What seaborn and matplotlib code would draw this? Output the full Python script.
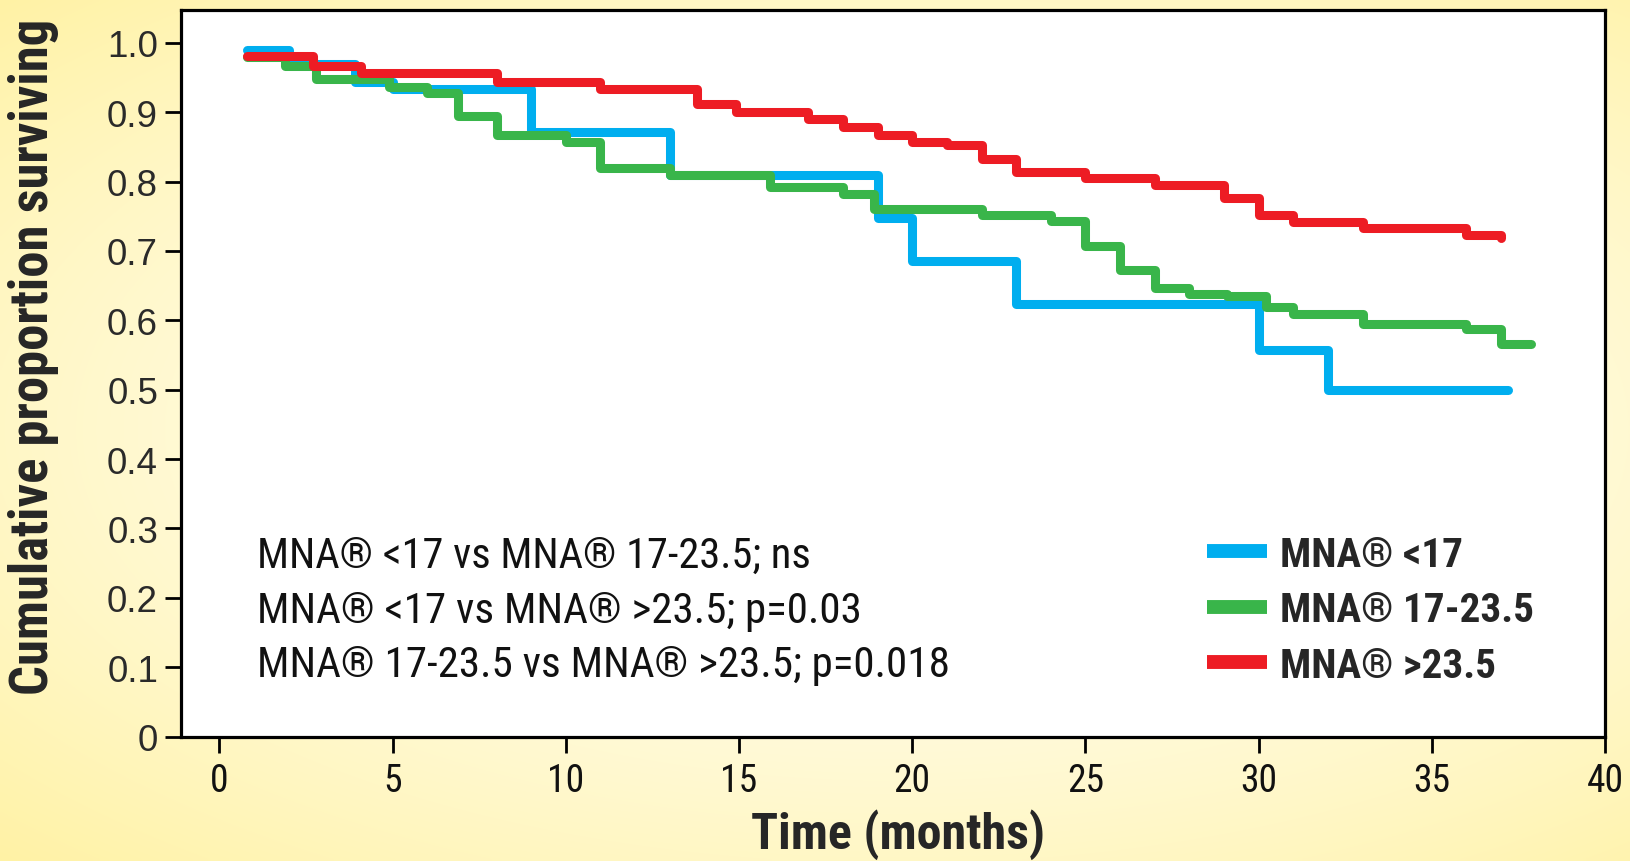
import os
import numpy as np
import pandas as pd
import matplotlib
matplotlib.use("Agg")
import matplotlib.pyplot as plt
import seaborn as sns
from matplotlib import font_manager as fm
from matplotlib.lines import Line2D

# ---------------- data ----------------
groups = ["MNA\u00ae <17", "MNA\u00ae 17-23.5", "MNA\u00ae >23.5"]
colors = ["#00AEEF", "#39B54A", "#ED1C24"]

blue_t = [0.8, 2.0, 3.9, 5.0, 9.0, 13.0, 19.0, 20.0, 23.0, 30.0, 32.0, 37.2]
blue_s = [0.99, 0.97, 0.943, 0.933, 0.872, 0.809, 0.748, 0.685, 0.623, 0.557, 0.50, 0.50]

green_t = [0.8, 1.9, 2.8, 4.9, 6.0, 6.9, 8.0, 10.0, 11.0, 13.0, 15.9, 18.0, 18.9,
           22.0, 24.0, 25.0, 26.0, 27.0, 28.0, 29.1, 30.2, 31.0, 33.0, 36.0, 37.0, 37.86]
green_s = [0.98, 0.967, 0.948, 0.937, 0.928, 0.895, 0.867, 0.857, 0.819, 0.81, 0.7915,
           0.782, 0.761, 0.752, 0.7425, 0.707, 0.673, 0.647, 0.638, 0.6345, 0.6195,
           0.609, 0.5945, 0.588, 0.566, 0.566]

red_t = [0.8, 2.7, 4.1, 8.0, 11.0, 13.8, 14.9, 17.0, 18.0, 19.0, 20.0, 21.0, 22.0,
         23.0, 25.0, 27.0, 29.0, 30.0, 31.0, 33.0, 36.0, 37.0]
red_s = [0.981, 0.966, 0.957, 0.943, 0.933, 0.912, 0.900, 0.890, 0.879, 0.867, 0.857,
         0.8525, 0.832, 0.814, 0.805, 0.795, 0.776, 0.752, 0.741, 0.733, 0.723, 0.718]

annotations = ["MNA\u00ae <17 vs MNA\u00ae 17-23.5; ns",
               "MNA\u00ae <17 vs MNA\u00ae >23.5; p=0.03",
               "MNA\u00ae 17-23.5 vs MNA\u00ae >23.5; p=0.018"]
x_ticks = [0, 5, 10, 15, 20, 25, 30, 35, 40]
y_ticks = [0, 0.1, 0.2, 0.3, 0.4, 0.5, 0.6, 0.7, 0.8, 0.9, 1.0]
y_tick_labels = ["0", "0.1", "0.2", "0.3", "0.4", "0.5", "0.6", "0.7", "0.8", "0.9", "1.0"]

df = pd.concat([
    pd.DataFrame({"t": blue_t, "s": blue_s, "g": groups[0]}),
    pd.DataFrame({"t": green_t, "s": green_s, "g": groups[1]}),
    pd.DataFrame({"t": red_t, "s": red_s, "g": groups[2]}),
], ignore_index=True)

# ---------------- fonts ----------------
def find_font(patterns):
    files = [f.fname for f in fm.fontManager.ttflist]
    for p in patterns:
        for fn in files:
            b = os.path.basename(fn).lower().replace("-", "").replace("_", "").replace(" ", "")
            if p in b:
                return fn
    return None

narrow_reg = find_font(["liberationsansnarrowregular", "liberationsansnarrow.ttf",
                        "arialnarrow", "robotocondensedregular", "robotocondensed.ttf",
                        "dejavusanscondensed.ttf", "opensanscondensed",
                        "dejavusanscondensed"])
narrow_bold = find_font(["liberationsansnarrowbold.", "liberationsansnarrowbold",
                         "arialnarrowbold", "robotocondensedbold.", "robotocondensedbold",
                         "dejavusanscondensedbold.", "dejavusanscondensedbold",
                         "opensanscondensedbold"])
reg_file = find_font(["liberationsansregular", "arial.ttf"])


def fp(fname, size, fallback_weight="normal"):
    if fname:
        return fm.FontProperties(fname=fname, size=size)
    return fm.FontProperties(family="DejaVu Sans", weight=fallback_weight, size=size,
                             stretch="condensed")

sns.set_theme(style="white")
plt.rcParams["font.family"] = ["Liberation Sans", "DejaVu Sans"]

W, H = 1631, 862
fig = plt.figure(figsize=(W / 100, H / 100), dpi=100)

# background gradient
bg = fig.add_axes([0, 0, 1, 1], zorder=-10)
yy, xx = np.mgrid[0:1:200j, 0:1:400j]
d = np.sqrt(((xx - 0.55) / 0.55) ** 2 + ((yy - 0.5) / 0.5) ** 2) / np.sqrt(2)
w = np.clip(d, 0, 1) ** 1.6
c0 = np.array([255, 254, 242]) / 255.0
c1 = np.array([255, 242, 165]) / 255.0
img = c0[None, None, :] * (1 - w[..., None]) + c1[None, None, :] * w[..., None]
bg.imshow(img, aspect="auto", extent=[0, 1, 0, 1], interpolation="bilinear")
bg.axis("off")

ax = fig.add_axes([181 / W, 1 - 737.5 / H, (1605 - 181) / W, (737.5 - 10.5) / H])
ax.set_facecolor("white")

sns.lineplot(data=df, x="t", y="s", hue="g", hue_order=groups, palette=colors,
             estimator=None, sort=False, drawstyle="steps-post", linewidth=6.5,
             legend=False, ax=ax)

ax.set_xlim(-1.11, 40)
ax.set_ylim(0, 1.048)
ax.set_xticks(x_ticks)
ax.set_xticklabels([str(v) for v in x_ticks])
for lab in ax.get_xticklabels():
    lab.set_fontproperties(fp(narrow_reg, 27))
    lab.set_color("#111111")
ax.set_yticks(y_ticks)
ax.set_yticklabels(y_tick_labels)
for lab in ax.get_yticklabels():
    lab.set_fontproperties(fp(reg_file, 26.5) if reg_file else
                           fm.FontProperties(family="DejaVu Sans", size=25))
    lab.set_color("#2a2a2a")
ax.tick_params(axis="both", direction="out", length=11.5, width=2.0, color="black",
               left=True, bottom=True)
ax.tick_params(axis="y", pad=5)
ax.tick_params(axis="x", pad=7)
for sp in ax.spines.values():
    sp.set_visible(True)
    sp.set_color("black")
    sp.set_linewidth(2.3)

xl = ax.set_xlabel("Time (months)", fontproperties=fp(narrow_bold, 36, "bold"))
yl = ax.set_ylabel("Cumulative proportion surviving",
                   fontproperties=fp(narrow_bold, 36, "bold"))
ax.xaxis.set_label_coords(0.5035, -0.099)
ax.yaxis.set_label_coords(-0.086, 0.523)

ys = [0.2497, 0.1737, 0.0991]
ann = []
for txt, yv in zip(annotations, ys):
    ann.append(ax.text(0.0534, yv, txt, transform=ax.transAxes, va="center", ha="left",
                       fontproperties=fp(narrow_reg, 30), color="#111111"))

handles = [Line2D([], [], color=c, linewidth=10, solid_capstyle="butt") for c in colors]
leg = ax.legend(handles, groups, loc="center left", bbox_to_anchor=(0.7205, 0.1737),
                frameon=False, borderpad=0, borderaxespad=0, handlelength=1.45,
                handletextpad=0.3, labelspacing=0.42,
                prop=fp(narrow_bold, 30, "bold"))

# fit text sizes to the widths measured in the reference (pixels)
fig.canvas.draw()
r = fig.canvas.get_renderer()


def fit(artist, target, maxsize, vertical=False):
    bb = artist.get_window_extent(r)
    cur = bb.height if vertical else bb.width
    size = artist.get_fontsize() * target / cur
    artist.set_fontsize(min(size, maxsize))

fit(yl, 676, 42, vertical=True)
fit(xl, 300, 36)
for a, tw in zip(ann, [554, 604, 692]):
    fit(a, tw, 31)
lt = leg.get_texts()
bb = lt[1].get_window_extent(r)
s = min(30 * 254 / bb.width, 31)
for t in lt:
    t.set_fontsize(s)

fig.savefig("out.png", dpi=100)
